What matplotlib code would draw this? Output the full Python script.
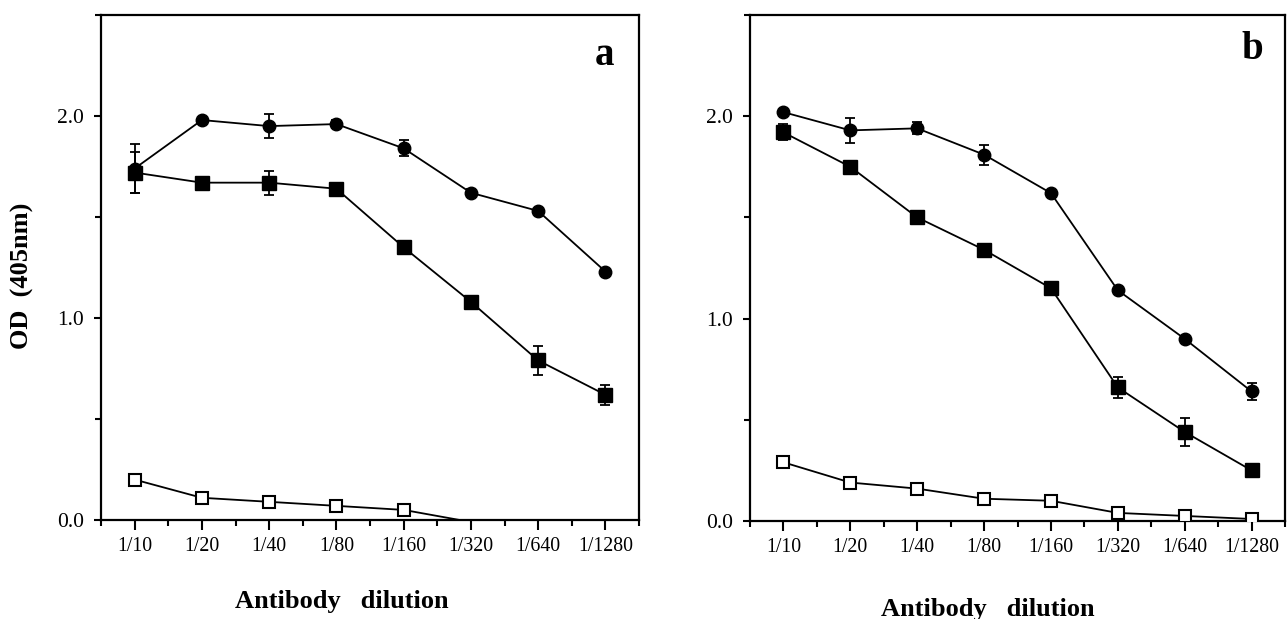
import numpy as np
import matplotlib
matplotlib.use("Agg")
import matplotlib.pyplot as plt
from matplotlib.ticker import MultipleLocator

plt.rcParams['font.family'] = ['Liberation Serif', 'DejaVu Serif']

dilutions = ["1/10", "1/20", "1/40", "1/80", "1/160", "1/320", "1/640", "1/1280"]

# Panel a
a_circle = [1.74, 1.98, 1.95, 1.96, 1.84, 1.62, 1.53, 1.23]
a_circle_err = [0.12, 0.0, 0.06, 0.02, 0.04, 0.02, 0.0, 0.0]
a_square = [1.72, 1.67, 1.67, 1.64, 1.35, 1.08, 0.79, 0.62]
a_square_err = [0.10, 0.02, 0.06, 0.0, 0.03, 0.0, 0.07, 0.05]
a_open = [0.20, 0.11, 0.09, 0.07, 0.05, -0.01, -0.02, -0.02]
a_open_err = [0.0, 0.0, 0.0, 0.0, 0.0, 0.0, 0.0, 0.0]

# Panel b
b_circle = [2.02, 1.93, 1.94, 1.81, 1.62, 1.14, 0.90, 0.64]
b_circle_err = [0.0, 0.06, 0.03, 0.05, 0.0, 0.0, 0.0, 0.04]
b_square = [1.92, 1.75, 1.50, 1.34, 1.15, 0.66, 0.44, 0.25]
b_square_err = [0.04, 0.0, 0.0, 0.02, 0.0, 0.05, 0.07, 0.0]
b_open = [0.29, 0.19, 0.16, 0.11, 0.10, 0.04, 0.025, 0.01]
b_open_err = [0.0, 0.0, 0.0, 0.0, 0.02, 0.0, 0.0, 0.01]

fig = plt.figure(figsize=(12.87, 6.19), dpi=100)
W, H = 1287.0, 619.0

def make_ax(left_px, right_px, top_px, bottom_px):
    return fig.add_axes([left_px / W, 1 - bottom_px / H,
                         (right_px - left_px) / W, (bottom_px - top_px) / H])

ax_a = make_ax(101, 639, 15, 520)
ax_b = make_ax(750, 1285, 15, 521)

def draw(ax, circ, circ_e, sq, sq_e, op, op_e, letter, letter_xy):
    x = np.arange(len(dilutions))
    lw = 1.3
    ax.errorbar(x, sq, yerr=sq_e, color='black', lw=lw, elinewidth=1.3,
                capsize=3.5, capthick=1.3, marker='s', ms=10, mfc='black',
                mec='black', zorder=3)
    ax.errorbar(x, circ, yerr=circ_e, color='black', lw=lw, elinewidth=1.3,
                capsize=3.5, capthick=1.3, marker='o', ms=9, mfc='black',
                mec='black', zorder=4)
    op = np.array(op, dtype=float)
    ax.plot(x, op, color='black', lw=lw, zorder=2)
    vis = np.where(op >= 0, op, np.nan)
    ax.errorbar(x, vis, yerr=op_e, color='black', lw=0, elinewidth=1.3,
                capsize=3.5, capthick=1.3, marker='s', ms=8, mfc='white',
                mec='black', mew=1.5, zorder=3)
    ax.set_xlim(-0.5, 7.5)
    ax.set_ylim(0, 2.5)
    ax.set_xticks(x)
    ax.set_xticklabels(dilutions, fontsize=14.3)
    ax.xaxis.set_minor_locator(MultipleLocator(0.5))
    ax.set_yticks([0.0, 1.0, 2.0])
    ax.set_yticklabels(["0.0", "1.0", "2.0"], fontsize=15.5)
    ax.yaxis.set_minor_locator(MultipleLocator(0.5))
    ax.tick_params(axis='x', which='major', direction='out', length=7, width=1.5, pad=5)
    ax.tick_params(axis='x', which='minor', direction='out', length=4, width=1.5)
    ax.tick_params(axis='y', which='major', direction='out', length=5, width=1.5, pad=7)
    ax.tick_params(axis='y', which='minor', direction='out', length=4, width=1.5)
    for s in ax.spines.values():
        s.set_linewidth(1.6)
    ax.text(letter_xy[0], letter_xy[1], letter, transform=ax.transAxes,
            fontsize=28, fontweight='bold', ha='center', va='baseline')

draw(ax_a, a_circle, a_circle_err, a_square, a_square_err, a_open, a_open_err,
     "a", (0.935, 0.901))
draw(ax_b, b_circle, b_circle_err, b_square, b_square_err, b_open, b_open_err,
     "b", (0.938, 0.913))

# axis titles
fig.text(341.5 / W, 1 - 608 / H, "Antibody   dilution", fontsize=19,
         fontweight='bold', ha='center', va='baseline')
fig.text(988 / W, 1 - 616 / H, "Antibody   dilution", fontsize=19,
         fontweight='bold', ha='center', va='baseline')
fig.text(22.5 / W, 1 - 276 / H, "OD  (405nm)", fontsize=19, fontweight='bold',
         rotation=90, ha='center', va='center')

fig.savefig("out.png", dpi=100)
